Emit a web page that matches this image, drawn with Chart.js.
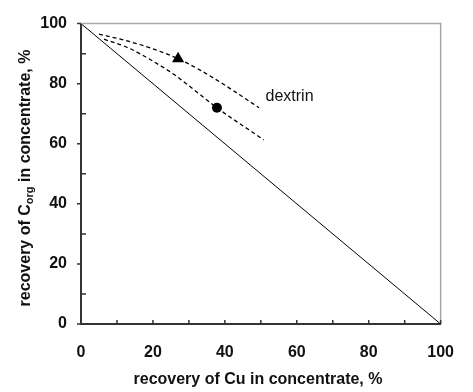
<!DOCTYPE html>
<html>
<head>
<meta charset="utf-8">
<script src="https://cdn.jsdelivr.net/npm/chart.js@4"></script>
<style>
  body { margin: 0; background: #fff; }
  #grafico { display: block; }
</style>
</head>
<body>
<canvas id="grafico" width="473" height="392"></canvas>
<script>
// Selectivity line (no separation)
const diagX = [0, 100];
const diagY = [100, 0];

// Dashed trend curves
const upperX = [5, 12, 19, 27, 33, 39.6, 49.5];
const upperY = [96.5, 94.5, 92, 88.3, 84.6, 79.8, 72];
const lowerX = [6.4, 13, 19, 26.3, 31.6, 37.8, 50.8];
const lowerY = [94.8, 92, 88.2, 82.7, 77.8, 72, 61.3];

// Measured points
const triX = [27];
const triY = [88.3];
const circX = [37.8];
const circY = [72];

// Axes
const axisMin = 0;
const axisMax = 100;
const majorStep = 20;
const minorStep = 10;

const labelDextrin = { x: 51.3, y: 75.6, text: 'dextrin' };

const fonte = '"Liberation Sans", Arial, sans-serif';

function pares(xs, ys) {
  return xs.map((x, i) => ({ x: x, y: ys[i] }));
}

// moldura, marcas dos eixos, titulos e rotulo
const extras = {
  id: 'extras',
  afterDraw(chart) {
    const c = chart.ctx;
    const a = chart.chartArea;
    const sx = chart.scales.x;
    const sy = chart.scales.y;
    c.save();

    // borda superior e direita em cinza
    c.strokeStyle = '#a8a8a8';
    c.lineWidth = 1.5;
    c.beginPath();
    c.moveTo(a.left, a.top);
    c.lineTo(a.right, a.top);
    c.lineTo(a.right, a.bottom);
    c.stroke();

    // marcas
    c.strokeStyle = '#333';
    c.lineWidth = 1.5;
    c.beginPath();
    for (let v = axisMin; v <= axisMax; v += minorStep) {
      const px = sx.getPixelForValue(v);
      c.moveTo(px, a.bottom);
      c.lineTo(px, a.bottom - 4);
      const py = sy.getPixelForValue(v);
      if (v % majorStep === 0) {
        c.moveTo(a.left, py);
        c.lineTo(a.left - 4, py);
      } else {
        c.moveTo(a.left, py);
        c.lineTo(a.left + 5, py);
      }
    }
    c.stroke();

    // titulo do eixo x
    c.fillStyle = '#111';
    c.font = 'bold 16px ' + fonte;
    c.textAlign = 'center';
    c.textBaseline = 'middle';
    c.fillText('recovery of Cu in concentrate, %', 258, 380);

    // titulo do eixo y com subscrito
    const p1 = 'recovery of C';
    const sub = 'org';
    const p2 = ' in concentrate, %';
    c.font = 'bold 16px ' + fonte;
    const w1 = c.measureText(p1).width;
    const w3 = c.measureText(p2).width;
    c.font = 'bold 11px ' + fonte;
    const w2 = c.measureText(sub).width;
    const total = w1 + w2 + w3;
    c.translate(24, 178);
    c.rotate(-Math.PI / 2);
    c.textAlign = 'left';
    c.textBaseline = 'alphabetic';
    const x0 = -total / 2;
    c.font = 'bold 16px ' + fonte;
    c.fillText(p1, x0, 6);
    c.font = 'bold 11px ' + fonte;
    c.fillText(sub, x0 + w1, 9);
    c.font = 'bold 16px ' + fonte;
    c.fillText(p2, x0 + w1 + w2, 6);
    c.setTransform(1, 0, 0, 1, 0, 0);

    // rotulo da curva
    c.font = '16px ' + fonte;
    c.textAlign = 'left';
    c.textBaseline = 'middle';
    c.fillStyle = '#111';
    c.fillText(labelDextrin.text, sx.getPixelForValue(labelDextrin.x), sy.getPixelForValue(labelDextrin.y));

    c.restore();
  }
};

const ctx = document.getElementById('grafico').getContext('2d');

const grafico = new Chart(ctx, {
  type: 'scatter',
  data: {
    datasets: [
      {
        data: pares(diagX, diagY),
        showLine: true,
        borderColor: '#000',
        borderWidth: 1,
        pointRadius: 0
      },
      {
        data: pares(upperX, upperY),
        showLine: true,
        borderColor: '#000',
        borderWidth: 1.3,
        borderDash: [4, 3],
        cubicInterpolationMode: 'monotone',
        pointRadius: 0
      },
      {
        data: pares(lowerX, lowerY),
        showLine: true,
        borderColor: '#000',
        borderWidth: 1.3,
        borderDash: [4, 3],
        cubicInterpolationMode: 'monotone',
        pointRadius: 0
      },
      {
        data: pares(triX, triY),
        pointStyle: 'triangle',
        pointRadius: 7,
        backgroundColor: '#000',
        borderColor: '#000',
        borderWidth: 0
      },
      {
        data: pares(circX, circY),
        pointStyle: 'circle',
        pointRadius: 5,
        backgroundColor: '#000',
        borderColor: '#000',
        borderWidth: 0
      }
    ]
  },
  options: {
    responsive: false,
    animation: false,
    layout: { padding: { top: 17, right: 16, left: 0, bottom: 0 } },
    plugins: {
      legend: { display: false },
      tooltip: { enabled: false }
    },
    scales: {
      x: {
        min: axisMin,
        max: axisMax,
        grid: { display: false, drawTicks: false },
        border: { display: true, color: '#333', width: 2 },
        ticks: {
          stepSize: majorStep,
          padding: 19,
          color: '#111',
          font: { family: fonte, size: 16, weight: 'bold' },
          maxRotation: 0
        },
        afterFit(scale) { scale.height = 68; }
      },
      y: {
        min: axisMin,
        max: axisMax,
        grid: { display: false, drawTicks: false },
        border: { display: true, color: '#333', width: 2 },
        ticks: {
          stepSize: majorStep,
          padding: 14,
          color: '#111',
          font: { family: fonte, size: 16, weight: 'bold' }
        },
        afterFit(scale) { scale.width = 81; }
      }
    }
  },
  plugins: [extras]
});
</script>
</body>
</html>
